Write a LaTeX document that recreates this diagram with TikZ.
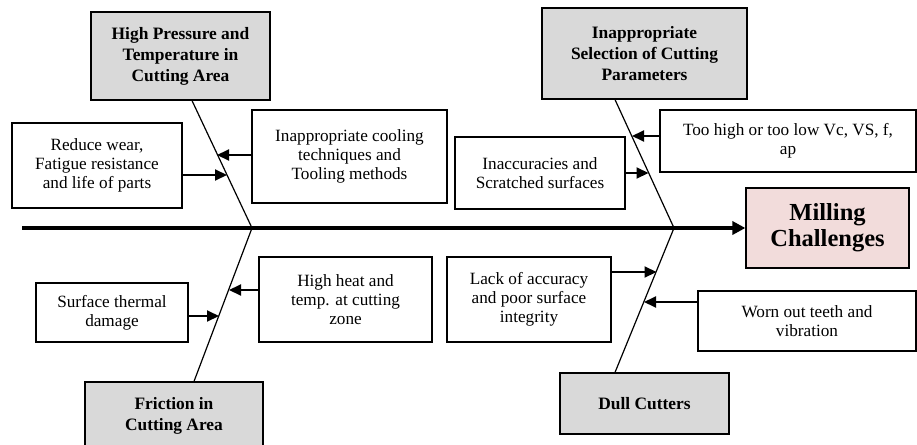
\documentclass[tikz,border=0pt]{standalone}
\usepackage{fontspec}
\setmainfont{Liberation Serif}
\usetikzlibrary{arrows.meta}
\definecolor{millpink}{HTML}{F2DCDB}
\begin{document}
\begin{tikzpicture}[
		x=1pt, y=-1pt,
		head/.style={draw, line width=1.2pt, fill=gray!30, align=center, inner sep=2pt,
			font=\fontsize{17.4}{21}\selectfont\bfseries},
		cause/.style={draw, line width=1.2pt, fill=white, align=center, inner sep=2pt,
			font=\fontsize{17.2}{19.2}\selectfont},
		arr/.style={line width=2pt, -{Triangle[length=12pt,width=11pt]}},
		spine/.style={line width=1.2pt}
	]
	\useasboundingbox (0,0) rectangle (917,444);
	\clip (0,0) rectangle (917,444);

	% effect and main line
	\node[draw, line width=1.2pt, fill=millpink, align=center, minimum width=163pt, minimum height=80pt,
		font=\fontsize{24.5}{26}\selectfont\bfseries] (mill) at (827.5,228) {Milling\\Challenges};
	\coordinate (tail) at (22,228);
	\coordinate (j1) at (252,228);
	\coordinate (j2) at (674,228);
	\draw[line width=3.3pt, -{Triangle[length=13pt,width=13pt]}] (tail) -- (mill.west);

	% main causes
	\node[head, minimum width=179pt, minimum height=88pt] (hp) at (180.5,56) {High Pressure and\\Temperature in\\Cutting Area};
	\node[head, minimum width=205pt, minimum height=91pt] (sel) at (644.5,53.5) {Inappropriate\\Selection of Cutting\\Parameters};
	\node[head, minimum width=178pt, minimum height=68pt] (fric) at (174,416) {Friction in\\Cutting Area};
	\node[head, minimum width=169pt, minimum height=61pt] (dull) at (644.5,403.5) {Dull Cutters};

	\draw[spine] ([xshift=11.5pt]hp.south) -- (j1);
	\draw[spine] ([xshift=-29.5pt]sel.south) -- (j2);
	\draw[spine] ([xshift=20pt]fric.north) -- (j1);
	\draw[spine] ([xshift=-29.5pt]dull.north) -- (j2);

	% sub causes
	\node[cause, minimum width=170pt, minimum height=85pt] (wear) at (97,165.5) {Reduce wear,\\Fatigue resistance\\and life of parts};
	\node[cause, minimum width=195pt, minimum height=93pt] (cool) at (349.5,156.5) {Inappropriate cooling\\techniques and\\Tooling methods};
	\node[cause, minimum width=170pt, minimum height=72pt] (inacc) at (540,173) {Inaccuracies and\\Scratched surfaces};
	\node[cause, minimum width=256pt, minimum height=62pt] (para) at (788,141) {Too high or too low Vc, VS, f,\\ap};
	\node[cause, minimum width=152pt, minimum height=59pt] (therm) at (112,312.5) {Surface thermal\\damage};
	\node[cause, minimum width=173pt, minimum height=85pt] (heat) at (345.5,299.5) {High heat and\\temp. at cutting\\zone};
	\node[cause, minimum width=164pt, minimum height=85pt] (lack) at (529,299.5) {Lack of accuracy\\and poor surface\\integrity};
	\node[cause, minimum width=218pt, minimum height=60pt] (worn) at (807,321) {Worn out teeth and\\vibration};

	% points on the spines
	\coordinate (p1) at (217,155);
	\coordinate (p2) at (227,175);
	\coordinate (p3) at (632,136);
	\coordinate (p4) at (648.5,173);
	\coordinate (p5) at (219,316);
	\coordinate (p6) at (229,290);
	\coordinate (p7) at (656.5,272);
	\coordinate (p8) at (644,302);

	\draw[arr] (cool.west |- p1) -- (p1);
	\draw[arr] (wear.east |- p2) -- (p2);
	\draw[arr] (para.west |- p3) -- (p3);
	\draw[arr] (inacc.east |- p4) -- (p4);
	\draw[arr] (therm.east |- p5) -- (p5);
	\draw[arr] (heat.west |- p6) -- (p6);
	\draw[arr] (lack.east |- p7) -- (p7);
	\draw[arr] (worn.west |- p8) -- (p8);
\end{tikzpicture}
\end{document}
